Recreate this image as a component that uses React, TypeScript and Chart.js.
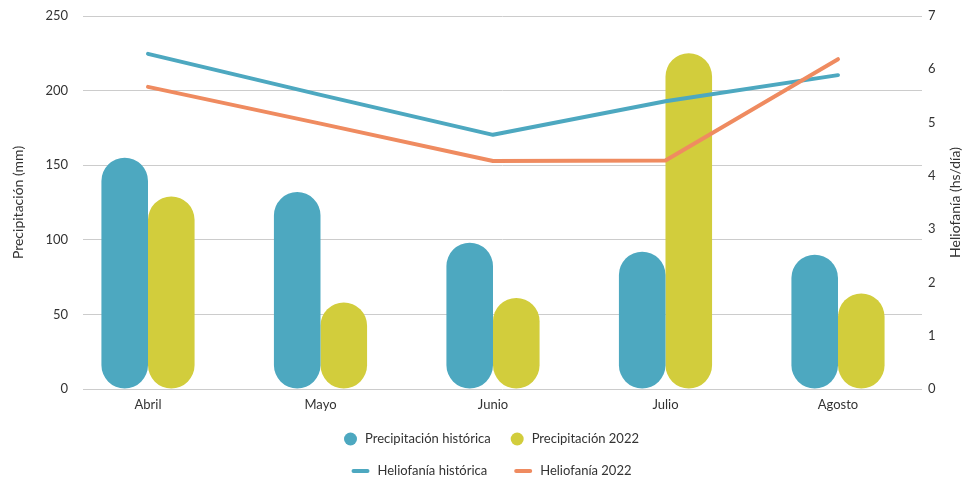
import React, { useEffect, useRef } from 'react';
import { Chart, registerables } from 'chart.js';

Chart.register(...registerables);

const months = ['Abril', 'Mayo', 'Junio', 'Julio', 'Agosto'];
const precipHistorica = [155, 132, 98, 92, 90];
const precip2022 = [129, 58, 61, 225, 64];
const helioHistorica = [6.29, 5.52, 4.77, 5.4, 5.89];
const helio2022 = [5.67, 4.98, 4.28, 4.29, 6.19];
const leftTicks = [0, 50, 100, 150, 200, 250];
const rightTicks = [0, 1, 2, 3, 4, 5, 6, 7];
const leftTitle = 'Precipitación (mm)';
const rightTitle = 'Heliofanía (hs/día)';

const BLUE = '#4DA8C0';
const YELLOW = '#D2CD3C';
const ORANGE = '#EF8B60';
const TEXT = '#333333';
const GRID = '#CCCCCC';
const FONT = 'Lato, "Open Sans", sans-serif';

const W = 979;
const H = 481;

const legendPlugin = {
  id: 'customLegend',
  afterDraw(chart: any) {
    const ctx = chart.ctx as CanvasRenderingContext2D;
    const ds = chart.data.datasets;
    const find = (l: string) => ds.find((d: any) => d.label === l);
    const rows = [
      { y: 439, gap: 20, items: [find('Precipitación histórica'), find('Precipitación 2022')] },
      { y: 471, gap: 27, items: [find('Heliofanía histórica'), find('Heliofanía 2022')] },
    ];
    ctx.save();
    ctx.font = `13px ${FONT}`;
    ctx.textBaseline = 'middle';
    const cx = chart.width / 2 + 2;
    for (const row of rows) {
      const widths = row.items.map((d: any) => {
        const marker = d.type === 'line' ? 18 : 13;
        return marker + 8 + ctx.measureText(d.label).width;
      });
      const total = widths.reduce((a: number, b: number) => a + b, 0) + row.gap;
      let x = cx - total / 2;
      row.items.forEach((d: any, i: number) => {
        const isLine = d.type === 'line';
        const color = isLine ? d.borderColor : d.backgroundColor;
        if (isLine) {
          ctx.strokeStyle = color;
          ctx.lineWidth = 4;
          ctx.lineCap = 'round';
          ctx.beginPath();
          ctx.moveTo(x + 2, row.y);
          ctx.lineTo(x + 16, row.y);
          ctx.stroke();
        } else {
          ctx.fillStyle = color;
          ctx.beginPath();
          ctx.arc(x + 6.5, row.y, 6.5, 0, Math.PI * 2);
          ctx.fill();
        }
        const marker = isLine ? 18 : 13;
        ctx.fillStyle = TEXT;
        ctx.textAlign = 'left';
        ctx.fillText(d.label, x + marker + 8, row.y);
        x += widths[i] + row.gap;
      });
    }
    // right axis title, reading bottom-to-top
    const area = chart.chartArea;
    ctx.font = `14px ${FONT}`;
    ctx.textAlign = 'center';
    ctx.textBaseline = 'middle';
    ctx.fillStyle = TEXT;
    ctx.translate(chart.width - 24, (area.top + area.bottom) / 2);
    ctx.rotate(-Math.PI / 2);
    ctx.fillText(rightTitle, 0, 0);
    ctx.restore();
  },
};

export default function App() {
  const ref = useRef<HTMLCanvasElement | null>(null);

  useEffect(() => {
    document.body.style.margin = '0';
    const canvas = ref.current;
    if (!canvas) return;
    const xMin = -0.3768;
    const xMax = 4.487;
    const chart = new Chart(canvas, {
      type: 'bar',
      data: {
        datasets: [
          {
            type: 'line',
            label: 'Heliofanía 2022',
            data: helio2022.map((v, i) => ({ x: i, y: v })),
            borderColor: ORANGE,
            backgroundColor: ORANGE,
            borderWidth: 4,
            borderCapStyle: 'round',
            borderJoinStyle: 'round',
            pointRadius: 0,
            tension: 0,
            yAxisID: 'y1',
            order: 0,
          } as any,
          {
            type: 'line',
            label: 'Heliofanía histórica',
            data: helioHistorica.map((v, i) => ({ x: i, y: v })),
            borderColor: BLUE,
            backgroundColor: BLUE,
            borderWidth: 4,
            borderCapStyle: 'round',
            borderJoinStyle: 'round',
            pointRadius: 0,
            tension: 0,
            yAxisID: 'y1',
            order: 1,
          } as any,
          {
            type: 'bar',
            label: 'Precipitación histórica',
            data: precipHistorica.map((v, i) => ({ x: i, y: v })),
            backgroundColor: BLUE,
            borderWidth: 0,
            borderRadius: 40,
            borderSkipped: false,
            barPercentage: 1,
            categoryPercentage: 0.54,
            yAxisID: 'y',
            order: 2,
          } as any,
          {
            type: 'bar',
            label: 'Precipitación 2022',
            data: precip2022.map((v, i) => ({ x: i, y: v })),
            backgroundColor: YELLOW,
            borderWidth: 0,
            borderRadius: 40,
            borderSkipped: false,
            barPercentage: 1,
            categoryPercentage: 0.54,
            yAxisID: 'y',
            order: 3,
          } as any,
        ],
      },
      options: {
        responsive: false,
        animation: false,
        devicePixelRatio: 1,
        layout: { padding: { top: 16, left: 0, right: 0, bottom: 0 } },
        plugins: {
          legend: { display: false },
          tooltip: { enabled: false },
        },
        scales: {
          x: {
            type: 'linear',
            offset: false,
            min: xMin,
            max: xMax,
            grid: { display: false },
            border: { display: false },
            afterBuildTicks: (scale: any) => {
              scale.ticks = months.map((_, i) => ({ value: i }));
            },
            afterFit: (scale: any) => {
              scale.height = 92;
              scale.paddingLeft = 0;
              scale.paddingRight = 0;
            },
            ticks: {
              autoSkip: false,
              maxRotation: 0,
              padding: 0,
              color: TEXT,
              font: { family: FONT, size: 13 },
              callback: (v: any) => months[v] ?? '',
            },
          },
          y: {
            type: 'linear',
            position: 'left',
            min: leftTicks[0],
            max: leftTicks[leftTicks.length - 1],
            afterBuildTicks: (scale: any) => {
              scale.ticks = leftTicks.map((v) => ({ value: v }));
            },
            afterFit: (scale: any) => {
              scale.width = 83;
              scale.paddingTop = 0;
              scale.paddingBottom = 0;
            },
            grid: { color: GRID, lineWidth: 1, drawTicks: false },
            border: { display: false },
            ticks: {
              padding: 15,
              color: TEXT,
              font: { family: FONT, size: 13 },
            },
            title: {
              display: true,
              text: leftTitle,
              color: TEXT,
              font: { family: FONT, size: 14 },
              padding: { top: 10, bottom: 0 },
            },
          },
          y1: {
            type: 'linear',
            position: 'right',
            min: rightTicks[0],
            max: rightTicks[rightTicks.length - 1],
            afterBuildTicks: (scale: any) => {
              scale.ticks = rightTicks.map((v) => ({ value: v }));
            },
            afterFit: (scale: any) => {
              scale.width = 57;
              scale.paddingTop = 0;
              scale.paddingBottom = 0;
            },
            grid: { display: false, drawTicks: false },
            border: { display: false },
            ticks: {
              padding: 6,
              color: TEXT,
              font: { family: FONT, size: 13 },
            },
          },
        },
      },
      plugins: [legendPlugin],
    });
    return () => chart.destroy();
  }, []);

  return (
    <div style={{ width: W, height: H }}>
      <canvas ref={ref} width={W} height={H} style={{ display: 'block', width: W, height: H }} />
    </div>
  );
}
